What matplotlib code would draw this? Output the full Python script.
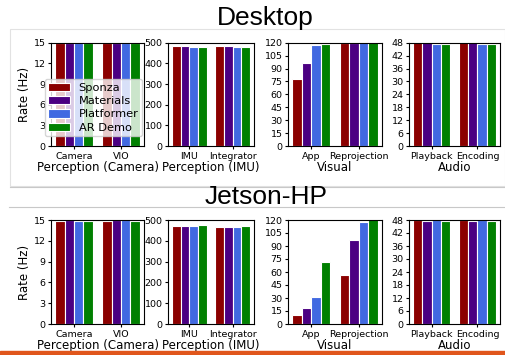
import numpy as np
import matplotlib
matplotlib.use("Agg")
import matplotlib.pyplot as plt
from matplotlib.lines import Line2D
from matplotlib.patches import Rectangle

apps = ["Sponza", "Materials", "Platformer", "AR Demo"]
colors = ["darkred", "indigo", "royalblue", "green"]

groups = ["Perception (Camera)", "Perception (IMU)", "Visual", "Audio"]
group_ticks = [["Camera", "VIO"], ["IMU", "Integrator"],
               ["App", "Reprojection"], ["Playback", "Encoding"]]
ylims = [15, 500, 120, 48]
ysteps = [3, 100, 15, 6]

# rate (Hz) per component, rows = apps (Sponza, Materials, Platformer, AR Demo)
desktop_camera = [[15, 15], [15, 15], [15, 15], [15, 15]]
desktop_imu = [[482, 482], [482, 482], [481, 481], [481, 481]]
desktop_visual = [[78, 120], [96, 120], [117, 121], [119, 121]]
desktop_audio = [[48.5, 48.5], [48.5, 48.5], [47.6, 47.6], [47.6, 47.6]]

jetson_camera = [[14.9, 14.9], [15.0, 15.0], [14.9, 15.0], [14.9, 14.9]]
jetson_imu = [[469, 465], [472, 468], [472, 468], [476, 472]]
jetson_visual = [[10, 56], [18, 97], [31, 118], [72, 121]]
jetson_audio = [[48.2, 48.2], [47.6, 47.6], [48.2, 48.2], [47.6, 47.6]]

desktop = [desktop_camera, desktop_imu, desktop_visual, desktop_audio]
jetson = [jetson_camera, jetson_imu, jetson_visual, jetson_audio]

W, H = 505, 355
fig = plt.figure(figsize=(W / 100, H / 100), dpi=100)

def px(x0, y0, x1, y1):
    return [x0 / W, 1 - y1 / H, (x1 - x0) / W, (y1 - y0) / H]

xspans = [(51, 144), (168, 254), (288, 382), (409, 500)]

def draw_row(data, ytop, ybot):
    axes = []
    for i, vals in enumerate(data):
        ax = fig.add_axes(px(xspans[i][0], ytop, xspans[i][1], ybot))
        x = np.arange(2)
        for j, app in enumerate(apps):
            ax.bar(x + (j - 1.5) * 0.2, vals[j], 0.2, color=colors[j],
                   edgecolor="white", linewidth=0.8, label=app)
        ax.set_ylim(0, ylims[i])
        ax.set_yticks(np.arange(0, ylims[i] + 1e-9, ysteps[i]))
        ax.set_xticks(x)
        ax.set_xticklabels(group_ticks[i])
        ax.tick_params(labelsize=6.8, length=2.5, pad=1.5)
        ax.set_xlabel(groups[i], fontsize=8.5, labelpad=0)
        axes.append(ax)
    axes[0].set_ylabel("Rate (Hz)", fontsize=8.5, labelpad=2)
    return axes

top = draw_row(desktop, 42.7, 146)
draw_row(jetson, 220, 324)

top[0].legend(loc="lower left", bbox_to_anchor=(-0.065, 0.095),
              borderaxespad=0, fontsize=8.2, handlelength=1.9,
              handleheight=0.75, labelspacing=0.28, borderpad=0.3,
              handletextpad=0.75, fancybox=True)

# slide decorations
gray = "#c8c8c8"
fig.patches.append(Rectangle((10 / W, 1 - 186 / H), (W - 10) / W, (186 - 29) / H,
                             transform=fig.transFigure, fill=False,
                             edgecolor="#e2e2e2", linewidth=0.8, zorder=-1))
fig.lines.append(Line2D([10 / W, 1], [1 - 187 / H, 1 - 187 / H],
                        transform=fig.transFigure, color=gray, linewidth=0.8))
fig.lines.append(Line2D([9 / W, 1], [1 - 207 / H, 1 - 207 / H],
                        transform=fig.transFigure, color=gray, linewidth=0.8))
fig.patches.append(Rectangle((0, 0), 1, 4 / H, transform=fig.transFigure,
                             color="#e0561c", zorder=10))

fig.text(265 / W, 1 - 18 / H, "Desktop", fontsize=19,
         family="Liberation Sans", ha="center", va="center")
fig.text(266 / W, 1 - 197 / H, "Jetson-HP", fontsize=19,
         family="Liberation Sans", ha="center", va="center")

fig.savefig("out.png", dpi=100)
